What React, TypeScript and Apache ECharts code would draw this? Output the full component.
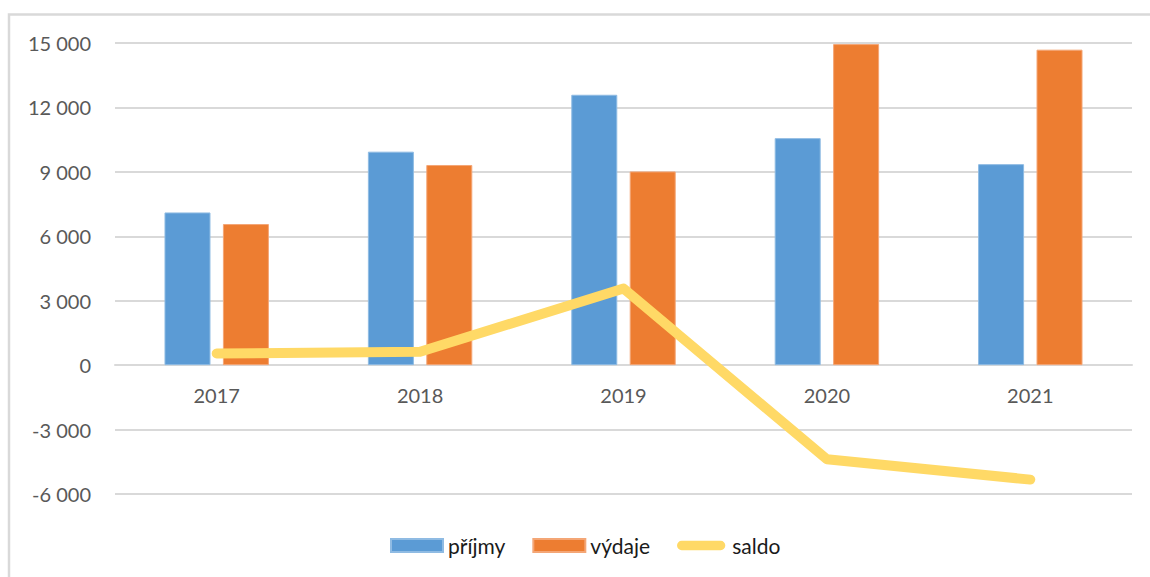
import React, { useEffect, useRef } from "react";
import * as echarts from "echarts";

const categories = ["2017", "2018", "2019", "2020", "2021"];
const prijmy = [7110, 9940, 12590, 10570, 9360];
const vydaje = [6570, 9320, 9020, 14950, 14690];
const saldo = [540, 620, 3570, -4380, -5330];

const FONT = "Lato";
const CAPSULE =
  "path://M0,-2 L0.01,-2 L0,-1.99 Z M5,0 H47 A5,5 0 0 1 47,10 H5 A5,5 0 0 1 5,0 Z M0,12 L0.01,12 L0,11.99 Z";

function fmt(v: number): string {
  const s = Math.abs(v).toString().replace(/\B(?=(\d{3})+(?!\d))/g, " ");
  return (v < 0 ? "-" : "") + s;
}

export default function App() {
  const ref = useRef<HTMLDivElement>(null);
  useEffect(() => {
    if (!ref.current) return;
    const chart = echarts.init(ref.current, null, { renderer: "svg" });
    chart.setOption({
      animation: false,
      backgroundColor: "#ffffff",
      textStyle: { fontFamily: FONT },
      graphic: [
        {
          type: "rect",
          shape: { x: 9, y: 14.5, width: 1400, height: 800 },
          style: { fill: "none", stroke: "#d9d9d9", lineWidth: 2.5 },
          silent: true,
        },
      ],
      grid: { left: 115, right: 18, top: 43, bottom: 83, containLabel: false },
      legend: {
        left: 385,
        top: 530,
        itemWidth: 52,
        itemHeight: 13,
        itemGap: 27,
        textStyle: { fontFamily: FONT, fontSize: 21, color: "#1a1a1a" },
        data: [
          { name: "příjmy", icon: "rect" },
          { name: "výdaje", icon: "rect" },
          {
            name: "saldo",
            icon: CAPSULE,
            itemStyle: { color: "#ffd966", borderWidth: 0 },
            lineStyle: { width: 0 },
          },
        ],
      },
      xAxis: {
        type: "category",
        data: categories,
        offset: -128.9,
        axisLine: { show: true, onZero: false, lineStyle: { color: "#d9d9d9", width: 2 } },
        axisTick: { show: false },
        axisLabel: { color: "#595959", fontSize: 20, fontFamily: FONT, margin: 20 },
      },
      yAxis: {
        type: "value",
        min: -6000,
        max: 15000,
        interval: 3000,
        axisLine: { show: false },
        axisTick: { show: false },
        splitLine: { lineStyle: { color: "#d9d9d9", width: 2 } },
        axisLabel: {
          color: "#595959",
          fontSize: 20,
          fontFamily: FONT,
          margin: 24,
          formatter: (v: number) => fmt(v),
        },
      },
      series: [
        {
          name: "příjmy",
          type: "bar",
          data: prijmy,
          barWidth: 46,
          barGap: "27%",
          itemStyle: { color: "#5b9bd5", borderColor: "#8fbbe3", borderWidth: 1 },
        },
        {
          name: "výdaje",
          type: "bar",
          data: vydaje,
          barWidth: 46,
          barGap: "27%",
          itemStyle: { color: "#ed7d31", borderColor: "#f4a676", borderWidth: 1 },
        },
        {
          name: "saldo",
          type: "line",
          data: saldo,
          symbol: "none",
          z: 5,
          itemStyle: { color: "#ffd966" },
          lineStyle: { color: "#ffd966", width: 10, cap: "round", join: "round" },
        },
      ],
    });
    return () => chart.dispose();
  }, []);
  return (
    <div
      ref={ref}
      style={{ position: "fixed", left: 0, top: 0, width: 1150, height: 577 }}
    />
  );
}
